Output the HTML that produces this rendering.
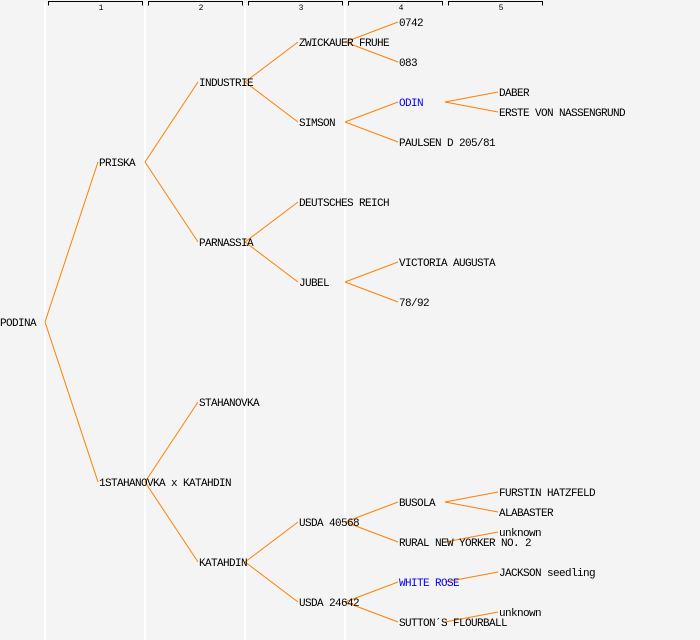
<!DOCTYPE html>
<html><head><meta charset="utf-8"><style>
html,body{margin:0;padding:0;background:#f4f4f4;}
svg{display:block;}
text{font-family:"Liberation Mono","DejaVu Sans Mono",monospace;font-size:11px;letter-spacing:-0.6px;fill:#000;}
.b{fill:#0000ff;}
text.h{font-size:8px;letter-spacing:0;}
line.l{stroke:#ff8000;stroke-width:1;}
</style></head><body>
<svg width="700" height="640" viewBox="0 0 700 640">
<rect width="700" height="640" fill="#f4f4f4"/>
<g stroke="#ffffff" stroke-width="2">
<line x1="45" y1="3" x2="45" y2="640"/><line x1="145" y1="3" x2="145" y2="640"/>
<line x1="245" y1="3" x2="245" y2="640"/><line x1="345" y1="3" x2="345" y2="640"/>
</g>
<g stroke="#000" stroke-width="1" fill="none">
<path d="M48.5 5.5V1.5H142.5V5.5"/><path d="M148.5 5.5V1.5H242.5V5.5"/><path d="M248.5 5.5V1.5H342.5V5.5"/><path d="M348.5 5.5V1.5H442.5V5.5"/><path d="M448.5 5.5V1.5H542.5V5.5"/>
</g>
<g text-anchor="middle">
<text class="h" x="101" y="10">1</text><text class="h" x="201" y="10">2</text><text class="h" x="301" y="10">3</text><text class="h" x="401" y="10">4</text><text class="h" x="501" y="10">5</text>
</g>
<g>
<line class="l" x1="45" y1="322" x2="98" y2="162"/><line class="l" x1="45" y1="322" x2="98" y2="482"/>
<line class="l" x1="145" y1="162" x2="198" y2="82"/><line class="l" x1="145" y1="162" x2="198" y2="242"/>
<line class="l" x1="145" y1="482" x2="198" y2="402"/><line class="l" x1="145" y1="482" x2="198" y2="562"/>
<line class="l" x1="245" y1="82" x2="298" y2="42"/><line class="l" x1="245" y1="82" x2="298" y2="122"/>
<line class="l" x1="245" y1="242" x2="298" y2="202"/><line class="l" x1="245" y1="242" x2="298" y2="282"/>
<line class="l" x1="245" y1="562" x2="298" y2="522"/><line class="l" x1="245" y1="562" x2="298" y2="602"/>
<line class="l" x1="345" y1="42" x2="398" y2="22"/><line class="l" x1="345" y1="42" x2="398" y2="62"/>
<line class="l" x1="345" y1="122" x2="398" y2="102"/><line class="l" x1="345" y1="122" x2="398" y2="142"/>
<line class="l" x1="345" y1="282" x2="398" y2="262"/><line class="l" x1="345" y1="282" x2="398" y2="302"/>
<line class="l" x1="345" y1="522" x2="398" y2="502"/><line class="l" x1="345" y1="522" x2="398" y2="542"/>
<line class="l" x1="345" y1="602" x2="398" y2="582"/><line class="l" x1="345" y1="602" x2="398" y2="622"/>
<line class="l" x1="445" y1="102" x2="498" y2="92"/><line class="l" x1="445" y1="102" x2="498" y2="112"/>
<line class="l" x1="445" y1="502" x2="498" y2="492"/><line class="l" x1="445" y1="502" x2="498" y2="512"/>
<line class="l" x1="445" y1="542" x2="498" y2="532"/>
<line class="l" x1="445" y1="582" x2="498" y2="572"/>
<line class="l" x1="445" y1="622" x2="498" y2="612"/>
</g>
<g dominant-baseline="middle">
<text x="0" y="323">PODINA</text>
<text x="99" y="163">PRISKA</text><text x="99" y="483">1STAHANOVKA x KATAHDIN</text>
<text x="199" y="83">INDUSTRIE</text><text x="199" y="243">PARNASSIA</text><text x="199" y="403">STAHANOVKA</text><text x="199" y="563">KATAHDIN</text>
<text x="299" y="43">ZWICKAUER FRUHE</text><text x="299" y="123">SIMSON</text><text x="299" y="203">DEUTSCHES REICH</text><text x="299" y="283">JUBEL</text><text x="299" y="523">USDA 40568</text><text x="299" y="603">USDA 24642</text>
<text x="399" y="23">0742</text><text x="399" y="63">083</text><text x="399" y="103" class="b">ODIN</text><text x="399" y="143">PAULSEN D 205/81</text><text x="399" y="263">VICTORIA AUGUSTA</text><text x="399" y="303">78/92</text><text x="399" y="503">BUSOLA</text><text x="399" y="543">RURAL NEW YORKER NO. 2</text><text x="399" y="583" class="b">WHITE ROSE</text><text x="399" y="623">SUTTON´S FLOURBALL</text>
<text x="499" y="93">DABER</text><text x="499" y="113">ERSTE VON NASSENGRUND</text><text x="499" y="493">FURSTIN HATZFELD</text><text x="499" y="513">ALABASTER</text><text x="499" y="533">unknown</text><text x="499" y="573">JACKSON seedling</text><text x="499" y="613">unknown</text>
</g>
</svg>
</body></html>
